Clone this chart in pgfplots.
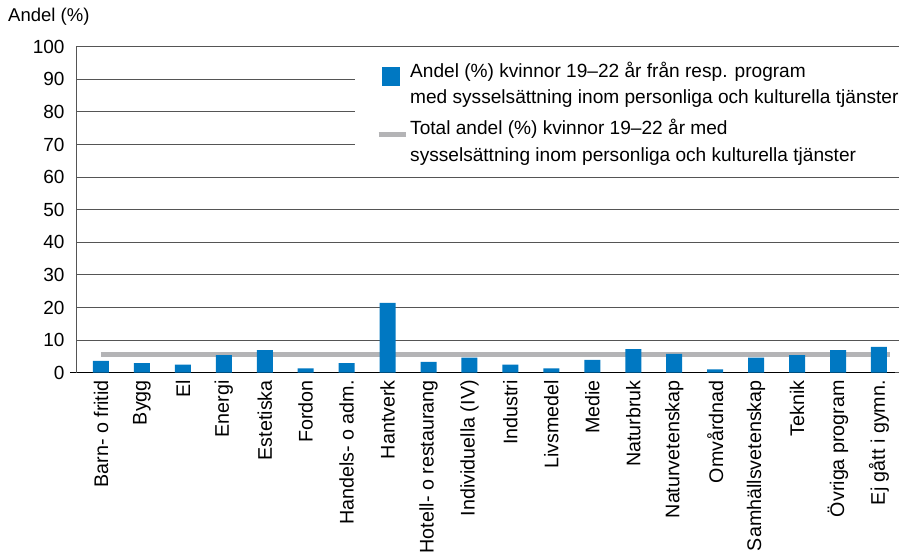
\documentclass[border=0pt]{standalone}
\usepackage{fontspec}
\setmainfont{Liberation Sans}
\usepackage{pgfplots}
\pgfplotsset{compat=1.18}
\definecolor{barblue}{RGB}{0,120,194}
\definecolor{linegray}{RGB}{180,180,182}
\definecolor{gridgray}{RGB}{85,85,85}
\begin{document}
\begin{tikzpicture}[x=1pt,y=1pt]
\useasboundingbox (0,0) rectangle (909,556);
\begin{axis}[
  at={(76pt,183.3pt)}, anchor=south west,
  width=823pt, height=326pt, scale only axis,
  xmin=-0.61, xmax=19.49, ymin=0, ymax=100,
  ytick={0,10,...,100},
  xtick={0,...,19},
  xticklabels={Barn- o fritid, Bygg, El, Energi, Estetiska, Fordon, Handels- o adm., Hantverk, Hotell- o restaurang, Individuella (IV), Industri, Livsmedel, Medie, Naturbruk, Naturvetenskap, Omvårdnad, Samhällsvetenskap, Teknik, Övriga program, Ej gått i gymn.},
  x tick label style={rotate=90, anchor=east, font=\fontsize{19.7}{22}\selectfont},
  y tick label style={font=\fontsize{19}{22}\selectfont},
  /pgf/number format/assume math mode=true,
  major tick length=0pt,
  xticklabel shift=4pt,
  yticklabel shift=8pt,
  ymajorgrids,
  grid style={gridgray, line width=0.9pt},
  axis x line*=bottom, axis y line*=left,
  x axis line style={-, black, line width=1pt, shorten <=-6pt, shorten >=4pt},
  y axis line style={-, gridgray, line width=1pt},
  ylabel={Andel (\%)},
  ylabel style={rotate=-90, anchor=west, inner sep=0pt, at={(axis description cs:-0.0826,1.091)}, font=\fontsize{18.5}{22}\selectfont},
  legend style={at={(axis description cs:0.339,0.985)}, anchor=north west,
    draw=none, fill=white, font=\fontsize{19.1}{24}\selectfont,
    cells={align=left}, row sep=10pt, inner xsep=21pt, inner ysep=8pt},
  legend cell align=left,
]
\addplot[linegray, line width=5pt, forget plot] coordinates {(0,5.5) (19.27,5.5)};
\addplot[ybar, bar width=16pt, bar shift=0pt, fill=barblue, draw=none, forget plot] coordinates {
(0,3.6) (1,2.9) (2,2.5) (3,5.4) (4,6.9) (5,1.3) (6,2.9) (7,21.4) (8,3.3) (9,4.6)
(10,2.5) (11,1.3) (12,3.9) (13,7.2) (14,5.8) (15,1.0) (16,4.6) (17,5.4) (18,6.9) (19,7.9)};
\addlegendimage{legend image code/.code={\fill[barblue] (0pt,-2pt) rectangle (17pt,16pt);}}
\addlegendentry{Andel (\%) kvinnor 19–22 år från resp. program\\[2.5pt]med sysselsättning inom personliga och kulturella tjänster}
\addlegendimage{legend image code/.code={\draw[linegray, line width=5pt] (-3pt,6.5pt) -- (24pt,6.5pt);}}
\addlegendentry{Total andel (\%) kvinnor 19–22 år med\\[2.5pt]sysselsättning inom personliga och kulturella tjänster}
\end{axis}
\end{tikzpicture}
\end{document}
